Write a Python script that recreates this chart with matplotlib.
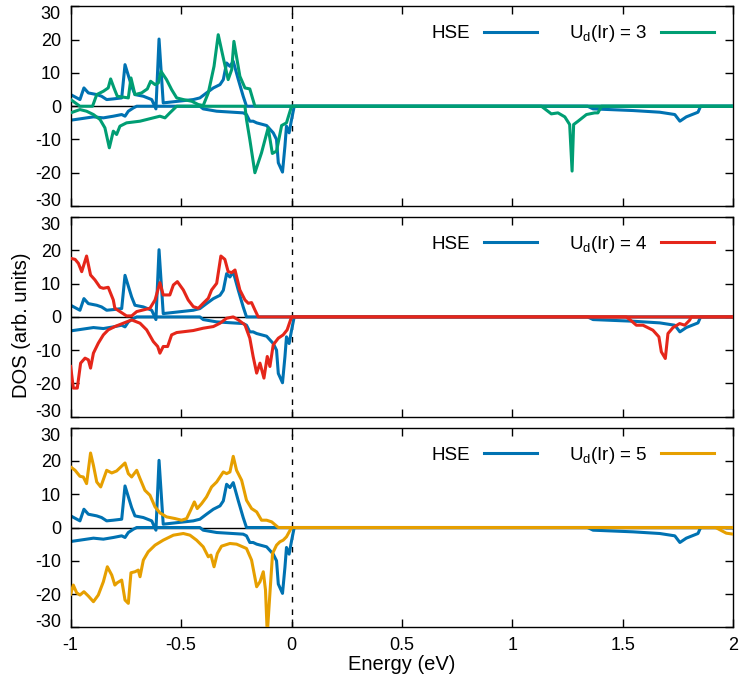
import matplotlib
matplotlib.use("Agg")
import matplotlib.pyplot as plt
from matplotlib.lines import Line2D

plt.rcParams['font.family'] = ['Liberation Sans', 'DejaVu Sans']
plt.rcParams['mathtext.fontset'] = 'custom'
plt.rcParams['mathtext.rm'] = 'Liberation Sans'
plt.rcParams['mathtext.it'] = 'Liberation Sans:italic'
plt.rcParams['axes.unicode_minus'] = False

# HSE reference DOS (same in every panel)
hse_up_x = [-1.0, -0.958, -0.940, -0.920, -0.882, -0.860, -0.837, -0.807, -0.769, -0.754,
            -0.724, -0.709, -0.671, -0.633, -0.614, -0.600, -0.581, -0.445, -0.415, -0.385,
            -0.354, -0.324, -0.309, -0.294, -0.279, -0.264, -0.241, -0.219, -0.204, 2.0]
hse_up_y = [3.5, 2.0, 5.5, 4.0, 3.5, 3.0, 2.0, 2.2, 2.5, 12.5,
            6.0, 3.5, 3.0, 2.0, -0.8, 20.2, 1.0, 2.0, 2.5, 4.0,
            5.5, 6.5, 8.0, 13.0, 12.0, 13.5, 8.0, 3.0, 0.0, 0.0]
hse_dn_x = [-1.0, -0.958, -0.897, -0.852, -0.807, -0.769, -0.754, -0.739, -0.716, -0.701,
            -0.415, -0.400, -0.339, -0.219, -0.204, -0.189, -0.174, -0.158, -0.113, -0.083,
            -0.068, -0.060, -0.041, -0.030, -0.023, -0.011, 0.0, 0.012,
            1.34, 1.365, 1.546, 1.667, 1.735, 1.758, 1.787, 1.840, 1.852, 2.0]
hse_dn_y = [-4.2, -3.8, -3.2, -3.5, -3.0, -2.5, -3.0, -1.5, -0.5, 0.0,
            0.0, -0.8, -1.5, -2.0, -2.5, -4.5, -4.5, -5.0, -5.8, -8.0,
            -10.0, -17.0, -19.8, -12.0, -6.0, -8.0, -4.0, 0.0,
            0.0, -0.8, -1.3, -1.8, -2.5, -4.5, -3.2, -1.8, 0.0, 0.0]

# Ud(Ir) = 3
u3_up_x = [-1.0, -0.958, -0.901, -0.882, -0.852, -0.830, -0.819, -0.804, -0.789, -0.739,
           -0.727, -0.709, -0.679, -0.653, -0.638, -0.618, -0.603, -0.591, -0.566, -0.543,
           -0.520, -0.490, -0.452, -0.422, -0.400, -0.377, -0.351, -0.332, -0.309, -0.287,
           -0.271, -0.261, -0.234, -0.211, -0.189, -0.166, 2.0]
u3_up_y = [2.0, 0.0, 0.0, 3.5, 4.5, 5.5, 8.2, 5.5, 3.0, 2.5,
           8.5, 3.5, 4.0, 5.2, 7.5, 6.5, 7.0, 10.5, 8.0, 5.0,
           2.5, 2.0, 1.5, 0.5, 0.2, 4.0, 12.0, 21.5, 14.5, 8.0,
           11.0, 19.5, 9.0, 5.5, 5.2, 0.0, 0.0]
u3_dn_x = [-1.0, -0.958, -0.928, -0.897, -0.867, -0.845, -0.825, -0.807, -0.792, -0.777,
           -0.747, -0.686, -0.626, -0.596, -0.573, -0.551, -0.520, -0.211, -0.204, -0.189,
           -0.166, -0.136, -0.106, -0.087, -0.068, -0.045, -0.023, 0.0,
           1.131, 1.176, 1.206, 1.237, 1.259, 1.270, 1.277, 1.297, 1.335, 1.372,
           1.387, 1.403, 2.0]
u3_dn_y = [-2.0, -1.0, -1.5, -2.5, -4.0, -6.5, -12.5, -7.5, -8.5, -6.0,
           -5.0, -4.5, -3.5, -3.0, -3.5, -2.0, 0.0, 0.0, -4.0, -10.0,
           -20.0, -14.0, -6.5, -14.2, -13.5, -5.8, -5.0, 0.0,
           0.0, -2.3, -2.0, -3.2, -5.5, -19.5, -5.5, -4.5, -2.5, -2.0,
           -2.0, 0.0, 0.0]

# Ud(Ir) = 4
u4_up_x = [-1.0, -0.980, -0.965, -0.950, -0.928, -0.910, -0.890, -0.867, -0.852, -0.830,
           -0.807, -0.800, -0.777, -0.747, -0.724, -0.701, -0.671, -0.641, -0.618, -0.596,
           -0.581, -0.551, -0.535, -0.517, -0.490, -0.468, -0.445, -0.422, -0.400, -0.377,
           -0.362, -0.339, -0.320, -0.302, -0.287, -0.271, -0.256, -0.234, -0.211, -0.196,
           -0.181, -0.166, -0.151, 2.0]
u4_up_y = [17.6, 17.3, 16.1, 13.6, 18.3, 12.6, 11.1, 8.9, 8.6, 8.9,
           5.1, 2.6, 1.6, 0.3, 0.3, 1.6, 2.1, 2.6, 5.1, 10.3,
           6.6, 6.6, 9.6, 10.6, 8.1, 5.1, 3.1, 2.6, 4.1, 5.6,
           8.1, 10.1, 18.3, 17.3, 13.6, 13.3, 14.1, 8.1, 5.1, 4.1,
           4.3, 2.1, 0.0, 0.0]
u4_dn_x = [-1.0, -0.988, -0.970, -0.955, -0.935, -0.920, -0.910, -0.897, -0.875, -0.852,
           -0.830, -0.800, -0.762, -0.724, -0.686, -0.656, -0.626, -0.606, -0.596, -0.581,
           -0.561, -0.543, -0.520, -0.445, -0.400, -0.354, -0.324, -0.294, -0.264, -0.241,
           -0.211, -0.189, -0.174, -0.158, -0.143, -0.125, -0.110, -0.098, -0.083, -0.060,
           -0.038, -0.020, 0.0, 1.515, 1.535, 1.561, 1.591, 1.636, 1.663, 1.674,
           1.692, 1.704, 1.727, 1.757, 1.780, 1.802, 1.810, 2.0]
u4_dn_y = [-14.9, -21.4, -21.4, -13.9, -12.4, -12.9, -15.4, -10.9, -7.9, -5.4,
           -3.9, -2.9, -1.9, -0.9, -1.9, -3.9, -7.4, -8.9, -10.9, -8.9,
           -8.9, -5.4, -4.7, -4.1, -3.4, -2.9, -1.9, -0.4, 0.0, -0.9,
           -2.4, -6.4, -11.9, -16.9, -13.9, -18.4, -11.9, -14.9, -8.4, -6.4,
           -5.4, -3.9, 0.0, 0.0, -1.0, -2.5, -2.5, -4.0, -6.0, -10.5,
           -12.5, -5.0, -3.2, -2.0, -2.5, -1.0, 0.0, 0.0]

# Ud(Ir) = 5
u5_up_x = [-1.0, -0.980, -0.958, -0.943, -0.928, -0.910, -0.897, -0.882, -0.864, -0.837,
           -0.814, -0.792, -0.754, -0.739, -0.724, -0.701, -0.686, -0.664, -0.641, -0.618,
           -0.596, -0.566, -0.528, -0.498, -0.475, -0.457, -0.440, -0.427, -0.407, -0.385,
           -0.362, -0.339, -0.309, -0.294, -0.279, -0.264, -0.249, -0.226, -0.204, -0.181,
           -0.158, -0.136, -0.113, -0.090, -0.060, 2.0]
u5_up_y = [18.2, 17.2, 15.4, 15.2, 13.2, 22.4, 18.7, 13.7, 12.2, 17.2,
           16.4, 17.0, 19.4, 16.2, 15.2, 17.2, 14.7, 11.2, 9.7, 6.2,
           4.4, 3.2, 2.7, 2.2, 2.7, 5.2, 7.7, 5.7, 7.2, 9.2,
           12.2, 13.7, 16.7, 16.2, 16.7, 21.4, 17.2, 14.2, 8.2, 5.7,
           4.7, 2.2, 2.2, 1.7, 0.0, 0.0]
u5_dn_x = [-1.0, -0.988, -0.973, -0.958, -0.940, -0.920, -0.897, -0.875, -0.852, -0.834,
           -0.814, -0.800, -0.789, -0.769, -0.754, -0.739, -0.727, -0.709, -0.694, -0.686,
           -0.671, -0.649, -0.618, -0.581, -0.535, -0.490, -0.460, -0.430, -0.400, -0.377,
           -0.365, -0.351, -0.336, -0.317, -0.279, -0.249, -0.204, -0.181, -0.158, -0.143,
           -0.128, -0.118, -0.110, -0.098, -0.086, -0.068, -0.053, -0.038, -0.023, 0.0,
           1.92, 1.968, 2.0]
u5_dn_y = [-20.0, -17.3, -19.6, -20.3, -19.3, -20.6, -22.3, -20.3, -16.3, -11.8,
           -14.3, -17.3, -16.6, -15.8, -21.8, -22.8, -13.6, -13.3, -12.8, -14.8,
           -9.8, -7.3, -5.3, -3.8, -2.3, -1.8, -2.3, -3.8, -5.8, -8.8,
           -8.3, -11.8, -7.8, -5.6, -4.8, -5.0, -6.3, -9.8, -17.8, -16.3,
           -13.3, -18.8, -32.0, -19.8, -7.8, -5.3, -4.3, -3.8, -2.8, 0.0,
           0.0, -1.7, -2.0]

u_values = [3, 4, 5]
u_colors = ['#009e73', '#e5261a', '#e69f00']
u_data = [(u3_up_x, u3_up_y, u3_dn_x, u3_dn_y),
          (u4_up_x, u4_up_y, u4_dn_x, u4_dn_y),
          (u5_up_x, u5_up_y, u5_dn_x, u5_dn_y)]
hse_color = '#0072b2'

xticks = [-1, -0.5, 0, 0.5, 1, 1.5, 2]
xticklabels = ['-1', '-0.5', '0', '0.5', '1', '1.5', '2']
yticks = [-30, -20, -10, 0, 10, 20, 30]
yticklabels = ['-30', '-20', '-10', '0', '10', '20', '30']

fig = plt.figure(figsize=(7.4, 6.77), dpi=100)
left, width = 0.0955, 0.8955
bottoms = [0.6957, 0.3845, 0.0734]
height = 0.2948

for i in range(3):
    ax = fig.add_axes([left, bottoms[i], width, height])
    ax.axhline(0, color='black', lw=1.0, zorder=1)
    ax.axvline(0, color='black', lw=1.0, ls=(0, (4, 5)), zorder=1)
    ax.plot(hse_up_x, hse_up_y, color=hse_color, lw=2.2, zorder=2)
    ax.plot(hse_dn_x, hse_dn_y, color=hse_color, lw=2.2, zorder=2)
    ux, uy, dx, dy = u_data[i]
    ax.plot(ux, uy, color=u_colors[i], lw=2.2, zorder=3)
    ax.plot(dx, dy, color=u_colors[i], lw=2.2, zorder=3)

    ax.set_xlim(-1, 2)
    ax.set_ylim(-30, 30)
    ax.set_yticks(yticks, yticklabels)
    ax.tick_params(direction='in', top=True, right=True, length=6, width=1,
                   labelsize=13)
    ax.tick_params(axis='x', pad=7)
    ax.tick_params(axis='y', pad=7)
    if i < 2:
        ax.set_xticks(xticks, [])
    else:
        ax.set_xticks(xticks, xticklabels)
        ax.set_xlabel('Energy (eV)', fontsize=14.5, labelpad=1)
    # keep the end labels inside the panel height
    ylabs = ax.get_yticklabels()
    ylabs[0].set_verticalalignment('baseline')
    ylabs[-1].set_verticalalignment('top')
    for s in ax.spines.values():
        s.set_linewidth(1.0)

    handles = [Line2D([], [], color=hse_color, lw=2.2),
               Line2D([], [], color=u_colors[i], lw=2.2)]
    labels = ['HSE', r'U$_\mathrm{d}$(Ir) = %d' % u_values[i]]
    ax.legend(handles, labels, ncol=2, loc='upper right', bbox_to_anchor=(0.996, 1.0),
              markerfirst=False, frameon=False, fontsize=13.5, handlelength=2.8,
              handletextpad=0.75, columnspacing=1.7)

fig.text(0.0284, 0.52, 'DOS (arb. units)', rotation=90, fontsize=14.5,
         ha='center', va='center')

fig.savefig('out.png', dpi=100)
